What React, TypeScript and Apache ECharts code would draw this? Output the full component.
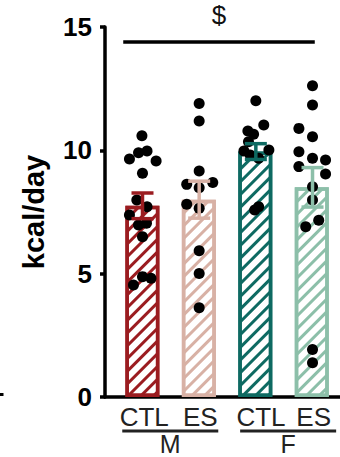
import React, { useEffect, useRef } from "react";
import * as echarts from "echarts";

// ---- data ----
const categories = ["CTL", "ES", "CTL", "ES"];
const groupNames = ["M", "F"];
const barMeans = [7.75, 8.0, 9.95, 8.5];
const barSem = [0.52, 0.75, 0.32, 0.8];
const barColors = ["#9B1C20", "#D8B1A5", "#0E6A62", "#8CBFA9"];

const mCtlValues = [10.59, 9.9, 9.97, 9.65, 9.57, 9.07, 7.99, 7.71, 7.38, 6.97, 7.04, 6.5, 4.54, 4.88, 4.81];
const mCtlJitter = [-0.01, -0.07, 0.08, -0.23, 0.24, 0, -0.1, 0.08, -0.23, -0.07, 0.07, 0, -0.16, 0, 0.15];
const mEsValues = [11.9, 11.19, 9.16, 8.62, 8.7, 8.48, 7.81, 7.65, 5.93, 5.01, 3.62];
const mEsJitter = [0, 0, 0, -0.22, 0.24, 0, -0.22, 0, 0, 0, 0];
const fCtlValues = [12.01, 11.03, 10.78, 10.65, 10.35, 9.97, 10.01, 9.81, 9.68, 7.58, 7.71];
const fCtlJitter = [0, 0.14, -0.14, -0.04, -0.13, -0.21, 0.23, -0.1, 0.05, -0.02, 0.05];
const fEsValues = [12.62, 11.84, 10.89, 10.55, 9.94, 9.68, 9.61, 9.34, 9.04, 8.52, 7.99, 6.9, 7.17, 1.93, 1.39];
const fEsJitter = [0, 0, -0.24, 0, -0.24, 0, 0.23, -0.24, 0.23, 0, 0, -0.12, 0.11, 0, 0];

const groupValues = [mCtlValues, mEsValues, fCtlValues, fEsValues];
const groupJitter = [mCtlJitter, mEsJitter, fCtlJitter, fEsJitter];

const yMin = 0;
const yMax = 15;
const yInterval = 5;
const yTitle = "kcal/day";

const sigLabel = "$";
const sigY = 14.4;
const sigFrom = -0.34;
const sigTo = 3.04;

const FONT = "'Liberation Sans', Arial, Helvetica, sans-serif";

export default function App() {
  const ref = useRef<HTMLDivElement>(null);

  useEffect(() => {
    if (!ref.current) return;
    const chart = echarts.init(ref.current, null, { renderer: "svg" });

    const points: number[][] = [];
    groupValues.forEach((vals, g) => {
      vals.forEach((v, k) => points.push([g + groupJitter[g][k], v]));
    });

    // category band width (px) and position of the first band centre
    const band = 56.67;
    const firstCentre = 142.5;
    const gridLeft = 105;
    const gridWidth = 235;
    const xMin = -(firstCentre - gridLeft) / band;
    const xMax = xMin + gridWidth / band;

    const option: any = {
      animation: false,
      backgroundColor: "#fff",
      textStyle: { fontFamily: FONT },
      grid: [
        { left: gridLeft, width: gridWidth, top: 27, bottom: 60, containLabel: false },
        { left: firstCentre - band / 2, width: band * 4, top: 27, bottom: 60, containLabel: false },
      ],
      xAxis: [
        {
          type: "value",
          gridIndex: 0,
          min: xMin,
          max: xMax,
          position: "bottom",
          axisLine: { show: true, onZero: false, lineStyle: { color: "#000", width: 3.5 } },
          axisTick: { show: false },
          splitLine: { show: false },
          axisLabel: {
            show: true,
            customValues: [0.03, 1.02, 2.09, 3.02],
            formatter: (v: number) => categories[Math.round(v)],
            fontSize: 26,
            color: "#222",
            fontFamily: FONT,
            margin: 7,
          },
        },
        {
          type: "value",
          gridIndex: 0,
          min: xMin,
          max: xMax,
          position: "bottom",
          axisLine: { show: false, onZero: false },
          axisTick: { show: false },
          splitLine: { show: false },
          axisLabel: {
            show: true,
            customValues: [0.49, 2.57],
            formatter: (v: number) => `{ln|}\n{t|${groupNames[v < 1.5 ? 0 : 1]}}`,
            margin: 32.5,
            rich: {
              ln: { width: 96, height: 3, lineHeight: 3, backgroundColor: "#222" },
              t: { fontSize: 25, lineHeight: 23, color: "#222", fontFamily: FONT },
            },
          },
        },
        {
          type: "category",
          gridIndex: 1,
          data: categories,
          show: false,
          boundaryGap: true,
        },
      ],
      yAxis: [
        {
          type: "value",
          gridIndex: 0,
          min: yMin,
          max: yMax,
          interval: yInterval,
          name: yTitle,
          nameLocation: "middle",
          nameGap: 57,
          nameTextStyle: { fontSize: 29, fontWeight: "bold", color: "#000", fontFamily: FONT },
          axisLine: { show: true, onZero: false, lineStyle: { color: "#000", width: 3.5 } },
          axisTick: { show: true, length: 5, lineStyle: { color: "#000", width: 3.5 } },
          splitLine: { show: false },
          axisLabel: { fontSize: 26, fontWeight: "bold", color: "#000", margin: 13, fontFamily: FONT },
        },
        {
          type: "value",
          gridIndex: 1,
          min: yMin,
          max: yMax,
          show: false,
          splitLine: { show: false },
        },
      ],
      graphic: [
        { type: "rect", left: 0, top: 393, shape: { width: 3.5, height: 3 }, style: { fill: "#000" } },
      ],
      series: [
        {
          type: "bar",
          xAxisIndex: 2,
          yAxisIndex: 1,
          barWidth: 34,
          z: 2,
          data: barMeans.map((v, i) => ({
            value: v,
            itemStyle: {
              color: "#fff",
              borderColor: barColors[i],
              borderWidth: 3.5,
              decal: {
                symbol: "rect",
                symbolSize: 1,
                color: barColors[i],
                backgroundColor: "#fff",
                dashArrayX: [1, 0],
                dashArrayY: [3, 6],
                rotation: -Math.PI / 4,
              },
            },
          })),
        },
        {
          type: "scatter",
          xAxisIndex: 0,
          yAxisIndex: 0,
          symbolSize: 11,
          z: 3,
          itemStyle: { color: "#000", opacity: 1 },
          data: points,
          markLine: {
            silent: true,
            symbol: "none",
            lineStyle: { color: "#000", width: 3.5, type: "solid" },
            label: {
              show: true,
              position: "middle",
              formatter: () => sigLabel,
              fontSize: 26,
              color: "#111",
              fontFamily: FONT,
              distance: 14,
            },
            data: [[{ coord: [sigFrom, sigY] }, { coord: [sigTo, sigY] }]],
          },
        },
        {
          type: "custom",
          xAxisIndex: 0,
          yAxisIndex: 0,
          z: 4,
          data: barMeans.map((m, i) => [i, m, barSem[i]]),
          renderItem: (params: any, api: any) => {
            const x = api.value(0);
            const m = api.value(1);
            const e = api.value(2);
            const top = api.coord([x, m + e]);
            const bot = api.coord([x, m - e]);
            const hw = 11;
            const color = barColors[params.dataIndex];
            const style = { stroke: color, lineWidth: 3.5 };
            return {
              type: "group",
              children: [
                { type: "line", shape: { x1: top[0], y1: top[1], x2: bot[0], y2: bot[1] }, style },
                { type: "line", shape: { x1: top[0] - hw, y1: top[1], x2: top[0] + hw, y2: top[1] }, style },
                { type: "line", shape: { x1: bot[0] - hw, y1: bot[1], x2: bot[0] + hw, y2: bot[1] }, style },
              ],
            };
          },
        },
      ],
    };

    chart.setOption(option);
    return () => chart.dispose();
  }, []);

  return (
    <div
      ref={ref}
      style={{ position: "fixed", left: 0, top: 0, width: 340, height: 457, background: "#fff" }}
    />
  );
}
